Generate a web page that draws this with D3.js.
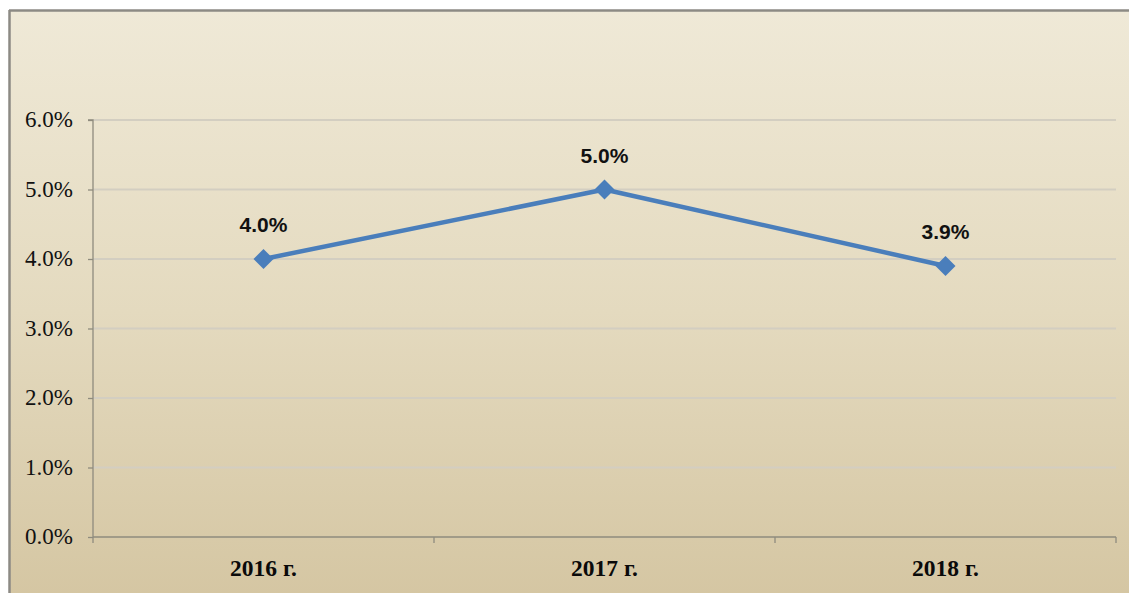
<!DOCTYPE html>
<html><head><meta charset="utf-8">
<script src="https://cdn.jsdelivr.net/npm/d3@7/dist/d3.min.js"></script>
<style>html,body{margin:0;padding:0;background:#fff;overflow:hidden}</style>
</head><body>
<svg id="c" width="1129" height="593"></svg>
<script>
const categories = ["2016 г.", "2017 г.", "2018 г."];
const values = [4.0, 5.0, 3.9];
const yTicks = [0, 1, 2, 3, 4, 5, 6];

const svg = d3.select("#c");
const defs = svg.append("defs");
const grad = defs.append("linearGradient").attr("id","bg").attr("x1",0).attr("y1",0).attr("x2",0).attr("y2",1);
grad.append("stop").attr("offset","0%").attr("stop-color","#efe9d7");
grad.append("stop").attr("offset","50%").attr("stop-color","#e4dabf");
grad.append("stop").attr("offset","100%").attr("stop-color","#d4c5a1");

svg.append("rect").attr("x",10).attr("y",11).attr("width",1130).attr("height",600).attr("fill","url(#bg)");
svg.append("line").attr("x1",9.5).attr("x2",9.5).attr("y1",10).attr("y2",600).attr("stroke","#8c8a84").attr("stroke-width",2.5);
svg.append("line").attr("x1",9).attr("x2",1129).attr("y1",10.5).attr("y2",10.5).attr("stroke","#8c8a84").attr("stroke-width",2.5);

const pL = 93, pR = 1116, pT = 120, pB = 537;
const x = d3.scaleBand().domain(categories).range([pL, pR]);
const y = d3.scaleLinear().domain([0, 6]).range([pB, pT]);

// gridlines
svg.append("g").selectAll("line").data(yTicks.filter(d => d > 0)).join("line")
  .attr("x1", pL).attr("x2", pR)
  .attr("y1", d => y(d)).attr("y2", d => y(d))
  .attr("stroke", "#d3cec1").attr("stroke-width", 2);

// y axis
const yAxis = svg.append("g").attr("transform", `translate(${pL},0)`)
  .call(d3.axisLeft(y).tickValues(yTicks).tickSize(5).tickPadding(15).tickFormat(d => d.toFixed(1) + "%"));
yAxis.select(".domain").attr("stroke", "#8f8b7e").attr("stroke-width", 1.3).attr("d", `M-5,${pT}H0V${pB}`);
yAxis.selectAll(".tick line").attr("stroke", "#8f8b7e").attr("stroke-width", 1.3);
yAxis.selectAll(".tick text").attr("font-family", "'Liberation Serif','Times New Roman',serif")
  .attr("font-size", 23).attr("fill", "#111").attr("dy", "0.3em");

// x axis
const xAxis = svg.append("g").attr("transform", `translate(0,${pB})`)
  .call(d3.axisBottom(x).tickSize(0).tickPadding(22));
xAxis.select(".domain").attr("stroke", "#8f8b7e").attr("stroke-width", 1.3).attr("d", `M${pL},0H${pR}`);
xAxis.selectAll(".tick text").attr("font-family", "'Liberation Serif','Times New Roman',serif")
  .attr("font-size", 23.5).attr("font-weight", "bold").attr("fill", "#0a0a0a").attr("dy", "0.71em");
const bounds = [pL, ...categories.map(c => x(c) + x.bandwidth())];
xAxis.append("g").selectAll("line").data(bounds).join("line")
  .attr("x1", d => d).attr("x2", d => d).attr("y1", 0).attr("y2", 6)
  .attr("stroke", "#8f8b7e").attr("stroke-width", 1.3);

const cx = c => x(c) + x.bandwidth() / 2;
const pts = categories.map((c, i) => ({c, v: values[i]}));

svg.append("path").datum(pts)
  .attr("d", d3.line().x(d => cx(d.c)).y(d => y(d.v)))
  .attr("fill", "none").attr("stroke", "#4a7ebb").attr("stroke-width", 4.5).attr("stroke-linejoin","round");

svg.append("g").selectAll("path").data(pts).join("path")
  .attr("transform", d => `translate(${cx(d.c)},${y(d.v)})`)
  .attr("d", "M0,-10L10,0L0,10L-10,0Z")
  .attr("fill", "#4a7ebb");

svg.append("g").selectAll("text").data(pts).join("text")
  .attr("x", d => cx(d.c)).attr("y", d => y(d.v) - 27)
  .attr("text-anchor", "middle")
  .attr("font-family", "'Liberation Sans',Arial,sans-serif").attr("font-weight", "bold")
  .attr("font-size", 21).attr("fill", "#111")
  .text(d => d.v.toFixed(1) + "%");
</script>
</body></html>
